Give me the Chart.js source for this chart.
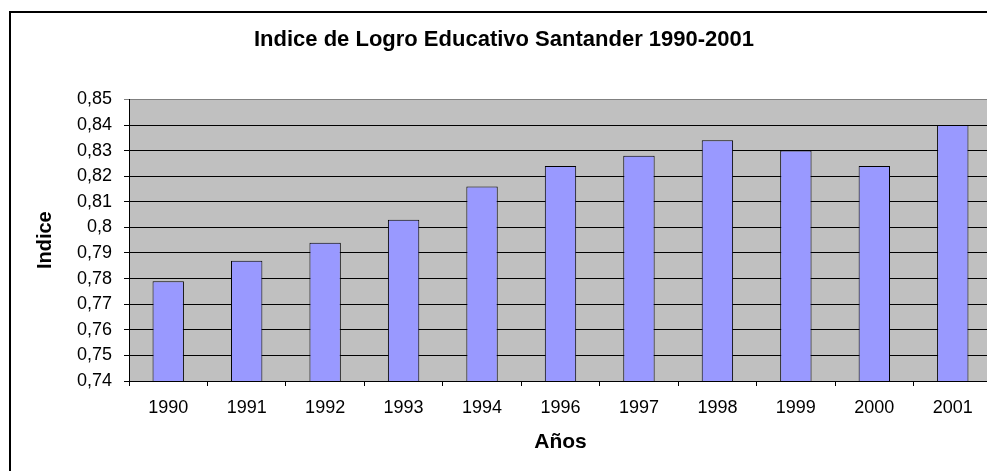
<!DOCTYPE html>
<html>
<head>
<meta charset="utf-8">
<script src="https://cdn.jsdelivr.net/npm/chart.js@4.4.0/dist/chart.umd.min.js"></script>
<style>
  html, body { margin: 0; padding: 0; overflow: hidden; background: #fff; }
  #wrap { position: relative; width: 1000px; height: 471px; }
</style>
</head>
<body>
<div id="wrap"><canvas id="chart"></canvas></div>
<script>
const years = ['1990', '1991', '1992', '1993', '1994', '1996', '1997', '1998', '1999', '2000', '2001'];
const indice = [0.779, 0.787, 0.794, 0.803, 0.816, 0.824, 0.828, 0.834, 0.830, 0.824, 0.840];
const yMin = 0.74;
const yMax = 0.85;
const yStep = 0.01;

Chart.defaults.font.family = 'Arial, "Liberation Sans", sans-serif';
Chart.defaults.color = '#000';

// grey plot area + outer frame, drawn before the grid
const background = {
  id: 'background',
  beforeDraw(chart) {
    const { ctx, chartArea: a } = chart;
    ctx.save();
    ctx.fillStyle = '#c0c0c0';
    ctx.fillRect(a.left, a.top, a.right - a.left, a.bottom - a.top);
    ctx.strokeStyle = '#000';
    ctx.lineWidth = 2;
    ctx.strokeRect(10, 12, 1100, 600);
    ctx.restore();
  }
};

new Chart(document.getElementById('chart'), {
  type: 'bar',
  data: {
    labels: years,
    datasets: [{
      label: 'Indice',
      data: indice,
      backgroundColor: '#9999ff',
      borderColor: '#000',
      borderWidth: 1,
      borderSkipped: false,
      barPercentage: 0.4,
      categoryPercentage: 1
    }]
  },
  options: {
    responsive: true,
    maintainAspectRatio: false,
    animation: false,
    layout: { padding: { left: 16, right: 8, top: 0, bottom: 0 } },
    plugins: {
      legend: { display: false },
      tooltip: { enabled: false },
      title: {
        display: true,
        text: 'Indice de Logro Educativo Santander 1990-2001',
        font: { size: 22, weight: 'bold' },
        padding: { top: 27, bottom: 46 }
      }
    },
    scales: {
      x: {
        afterFit(scale) { scale.height = 90; },
        border: { color: '#000', width: 1 },
        grid: { drawOnChartArea: false, color: '#000', tickLength: 5, offset: true },
        ticks: { font: { size: 18 }, padding: 11 },
        title: {
          display: true,
          text: 'Años',
          font: { size: 21, weight: 'bold' },
          padding: { top: 0, bottom: 16 }
        }
      },
      y: {
        min: yMin,
        max: yMax,
        afterFit(scale) { scale.width = 113; },
        border: { color: '#000', width: 1 },
        grid: {
          color: ctx => (ctx.tick && Math.abs(ctx.tick.value - yMax) < 1e-9) ? '#808080' : '#000',
          tickLength: 5
        },
        ticks: {
          stepSize: yStep,
          font: { size: 18 },
          padding: 12,
          callback: v => String(Math.round(v * 100) / 100).replace('.', ',')
        },
        title: {
          display: true,
          text: 'Indice',
          font: { size: 20, weight: 'bold' },
          padding: { top: 17, bottom: 0 }
        }
      }
    }
  },
  plugins: [background]
});
</script>
</body>
</html>
